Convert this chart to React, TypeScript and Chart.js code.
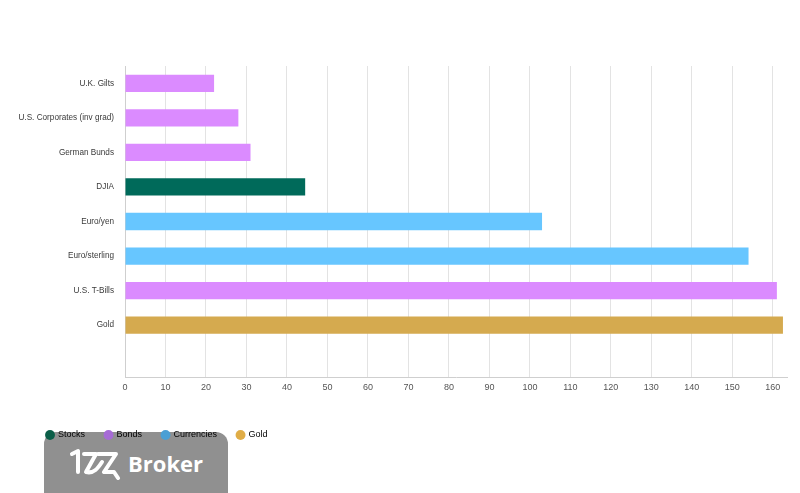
import React, { useEffect, useRef } from "react";
import { Chart, registerables } from "chart.js";

Chart.register(...registerables);

const categories = [
  "U.K. Gilts",
  "U.S. Corporates (inv grad)",
  "German Bunds",
  "DJIA",
  "Euro/yen",
  "Euro/sterling",
  "U.S. T-Bills",
  "Gold",
  "",
];
const values = [22, 28, 31, 44.5, 103, 154, 161, 162.5, null];
const groups = ["Bonds", "Bonds", "Bonds", "Stocks", "Currencies", "Currencies", "Bonds", "Gold", "Gold"];

const legendNames = ["Stocks", "Bonds", "Currencies", "Gold"];
const barColors: Record<string, string> = {
  Stocks: "#006A5A",
  Bonds: "#DB8BFF",
  Currencies: "#67C6FF",
  Gold: "#D5AA4F",
};
const legendColors: Record<string, string> = {
  Stocks: "#0B5E48",
  Bonds: "#A66BD6",
  Currencies: "#4A9FD4",
  Gold: "#E0AD46",
};
const xTickValues = [0, 10, 20, 30, 40, 50, 60, 70, 80, 90, 100, 110, 120, 130, 140, 150, 160];

const FONT = "'Liberation Sans', Arial, Helvetica, sans-serif";

const legendShift = {
  id: "legendShift",
  afterLayout(chart: any) {
    if (chart.legend) chart.legend.left = 26.5;
  },
};

export default function App() {
  const ref = useRef<HTMLCanvasElement | null>(null);

  useEffect(() => {
    document.body.style.margin = "0";
    const ctx = ref.current!.getContext("2d")!;
    const chart = new Chart(ctx, {
      type: "bar",
      data: {
        labels: categories,
        datasets: [
          {
            label: "Value",
            data: values,
            backgroundColor: groups.map((g) => barColors[g]),
            borderWidth: 0,
            categoryPercentage: 1,
            barPercentage: 0.5,
          },
        ],
      },
      plugins: [legendShift],
      options: {
        indexAxis: "y",
        responsive: false,
        animation: false,
        layout: { padding: { top: 66, left: 0, right: 13, bottom: 43.5 } },
        scales: {
          x: {
            min: 0,
            max: 163.5,
            afterBuildTicks: (scale: any) => {
              scale.ticks = xTickValues.map((v) => ({ value: v }));
            },
            afterFit: (scale: any) => {
              scale.height = 33.5;
            },
            grid: { color: "#e3e3e3", drawTicks: false },
            border: { color: "#cfcfcf" },
            ticks: {
              padding: 5,
              color: "#555",
              font: { family: FONT, size: 9 },
            },
          },
          y: {
            afterFit: (scale: any) => {
              scale.width = 125;
            },
            grid: { display: false, drawTicks: false },
            border: { color: "#cfcfcf" },
            ticks: {
              padding: 11,
              color: "#3a3a3a",
              font: { family: FONT, size: 8.2 },
            },
          },
        },
        plugins: {
          tooltip: { enabled: false },
          legend: {
            position: "bottom",
            align: "start",
            labels: {
              usePointStyle: true,
              pointStyle: "circle",
              boxWidth: 7,
              boxHeight: 7,
              padding: 20,
              color: "#222",
              font: { family: FONT, size: 9 },
              generateLabels: () =>
                legendNames.map((n) => ({
                  text: n,
                  fillStyle: legendColors[n],
                  strokeStyle: legendColors[n],
                  lineWidth: 0,
                  pointStyle: "circle",
                  hidden: false,
                  datasetIndex: 0,
                })),
            },
          },
        },
      },
    });
    return () => chart.destroy();
  }, []);

  return (
    <div style={{ position: "fixed", left: 0, top: 0, width: 800, height: 493, overflow: "hidden", background: "#fff" }}>
      <div
        style={{
          position: "absolute",
          left: 44,
          top: 432,
          width: 184,
          height: 75,
          borderRadius: 12,
          background: "#909090",
          display: "flex",
          alignItems: "center",
          paddingLeft: 24,
          boxSizing: "border-box",
          paddingBottom: 14,
        }}
      >
        <svg width="54" height="34" viewBox="0 0 54 34" style={{ marginRight: 6 }}>
          <g fill="none" stroke="#fff" strokeWidth="4" strokeLinecap="round" strokeLinejoin="round">
            <path d="M4 8 L10 5 L10 26" />
            <path d="M16 8 L28 8 L18 26 C26 28 30 22 34 16" />
            <path d="M30 8 L48 8 L36 26 L46 26 L50 32" />
          </g>
        </svg>
        <span style={{ color: "#fff", fontFamily: "'Open Sans', 'DejaVu Sans', sans-serif", fontWeight: 700, fontSize: 22 }}>
          Broker
        </span>
      </div>
      <canvas ref={ref} width={800} height={493} style={{ position: "absolute", left: 0, top: 0 }} />
    </div>
  );
}
